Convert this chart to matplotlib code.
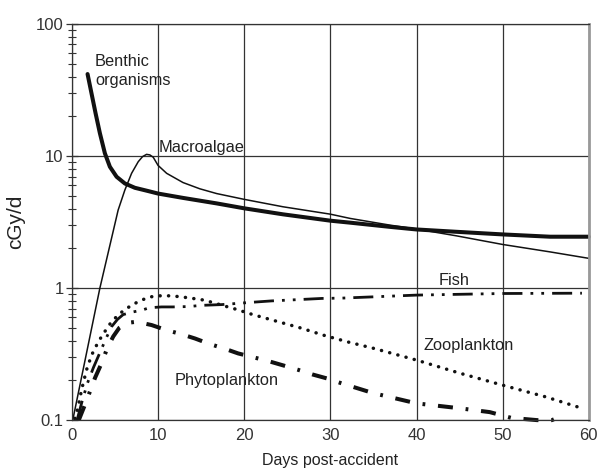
import matplotlib
matplotlib.use("Agg")
import matplotlib.pyplot as plt
from matplotlib.ticker import FixedLocator, FixedFormatter, NullFormatter

plt.rcParams['font.family'] = ['Liberation Sans', 'DejaVu Sans']
plt.rcParams['lines.scale_dashes'] = False

# values (days, cGy/d)
benthic_x = [1.82, 2.28, 2.75, 3.25, 3.83, 4.41, 5.19, 6.15, 7.31, 8.86, 10.0, 12.9,
             16.8, 20, 24.5, 30, 32.3, 36.9, 40, 44.6, 50, 55.5, 60]
benthic_y = [41.8, 29.8, 21.1, 14.9, 10.5, 8.3, 6.97, 6.2, 5.75, 5.43, 5.2, 4.82,
             4.38, 4.02, 3.62, 3.24, 3.13, 2.91, 2.78, 2.67, 2.55, 2.45, 2.45]

macro_x = [0.1, 3.25, 5.37, 6.15, 6.93, 7.7, 8.2, 8.67, 9.05, 9.44, 10.0, 11.0, 12.9, 14.85,
           16.8, 20, 24.5, 30, 32.3, 36.9, 40, 44.6, 50, 55.5, 60]
macro_y = [0.1, 1.0, 3.9, 5.53, 7.4, 9.06, 9.9, 10.3, 10.2, 9.8, 8.5, 7.4, 6.3, 5.65,
           5.2, 4.7, 4.13, 3.63, 3.37, 3.0, 2.8, 2.49, 2.14, 1.88, 1.68]

fish_x = [0.6, 1.2, 1.8, 2.5, 3.3, 4.0, 4.6, 5.3, 5.95, 7.1, 8.1, 9.0, 10.4, 11.7, 13.6, 15,
          17.4, 20.8, 23.2, 26.6, 29, 31.4, 40, 50, 59.2]
fish_y = [0.1, 0.14, 0.19, 0.25, 0.33, 0.42, 0.51, 0.58, 0.63, 0.66, 0.68, 0.71, 0.72, 0.72,
          0.725, 0.74, 0.75, 0.78, 0.80, 0.82, 0.835, 0.84, 0.885, 0.91, 0.915]

zoo_x = [0.35, 0.73, 1.12, 1.7, 2.28, 3.05, 3.64, 4.6, 5.57, 6.93, 7.9, 8.86, 9.8, 11.6, 13.5,
         15.4, 18.1, 19.1, 21.0, 23.8, 26.5, 29.2, 32.1, 35, 40, 45, 50, 55, 59.2]
zoo_y = [0.103, 0.126, 0.169, 0.24, 0.31, 0.39, 0.45, 0.556, 0.643, 0.743, 0.80, 0.85, 0.874,
         0.874, 0.845, 0.81, 0.72, 0.69, 0.63, 0.56, 0.50, 0.44, 0.39, 0.35, 0.285, 0.227,
         0.184, 0.15, 0.123]

phyto_x = [0.8, 1.5, 2.1, 2.7, 3.45, 4.1, 4.8, 5.5, 6.4, 7.5, 9.25, 11, 12.6, 14.3, 16, 17.6,
           19.3, 21, 22.8, 24.5, 26.3, 27.9, 29.6, 31.3, 35, 40, 45, 48.5, 51, 54, 55.7, 56.9]
phyto_y = [0.1, 0.13, 0.165, 0.21, 0.27, 0.35, 0.43, 0.5, 0.545, 0.556, 0.525, 0.48, 0.45,
           0.415, 0.377, 0.35, 0.32, 0.30, 0.28, 0.26, 0.24, 0.222, 0.207, 0.19, 0.16, 0.134,
           0.123, 0.115, 0.104, 0.1, 0.1, 0.107]

fig = plt.figure(figsize=(5.99, 4.71), dpi=100)
ax = fig.add_axes([0.120, 0.108, 0.863, 0.841])

ax.plot(benthic_x, benthic_y, color='#111111', lw=2.9, solid_capstyle='round',
        solid_joinstyle='round', clip_on=False)
ax.plot(macro_x, macro_y, color='#111111', lw=1.1, solid_joinstyle='round', clip_on=False)
ax.plot(fish_x, fish_y, color='#111111', lw=2.0, dashes=(14.4, 5.8, 2, 5.8, 2, 5.8), clip_on=False)
ax.plot(zoo_x, zoo_y, color='#111111', lw=2.5, dashes=(0.1, 6.0), dash_capstyle='round', clip_on=False)
ax.plot(phyto_x, phyto_y, color='#111111', lw=2.9, dashes=(10.8, 9.2, 2, 9.2), clip_on=False)

ax.set_yscale('log')
ax.set_xlim(0, 60)
ax.set_ylim(0.1, 100)
ax.set_xticks([0, 10, 20, 30, 40, 50, 60])
ax.yaxis.set_major_locator(FixedLocator([0.1, 1, 10, 100]))
ax.yaxis.set_major_formatter(FixedFormatter(['0.1', '1', '10', '100']))
ax.yaxis.set_minor_formatter(NullFormatter())
ax.grid(True, which='major', color='#333333', lw=0.9)
ax.tick_params(axis='x', length=0, labelsize=12, colors='#333333', pad=6)
ax.tick_params(axis='y', which='major', direction='inout', length=8, width=0.9,
               labelsize=12, colors='#333333', pad=2)
ax.tick_params(axis='y', which='minor', direction='inout', length=6, width=0.8, colors='#333333')

for s in ['left', 'top', 'bottom']:
    ax.spines[s].set_color('#333333')
    ax.spines[s].set_linewidth(0.9)
ax.spines['right'].set_color('#999999')
ax.spines['right'].set_linewidth(2)

ax.set_ylabel('cGy/d', fontsize=15, color='#222222', labelpad=8)
ax.set_xlabel('Days post-accident', fontsize=11.5, color='#222222', labelpad=7)

lab = dict(fontsize=11.8, color='#222222')
ax.text(2.67, 59, 'Benthic\norganisms', va='top', ha='left', linespacing=1.3, **lab)
ax.text(10.1, 11.6, 'Macroalgae', va='center', ha='left', **lab)
ax.text(44.4, 1.05, 'Fish', va='baseline', ha='center', **lab)
ax.text(46.0, 0.34, 'Zooplankton', va='baseline', ha='center', **lab)
ax.text(17.95, 0.186, 'Phytoplankton', va='baseline', ha='center', **lab)

fig.savefig('out.png', dpi=100)
